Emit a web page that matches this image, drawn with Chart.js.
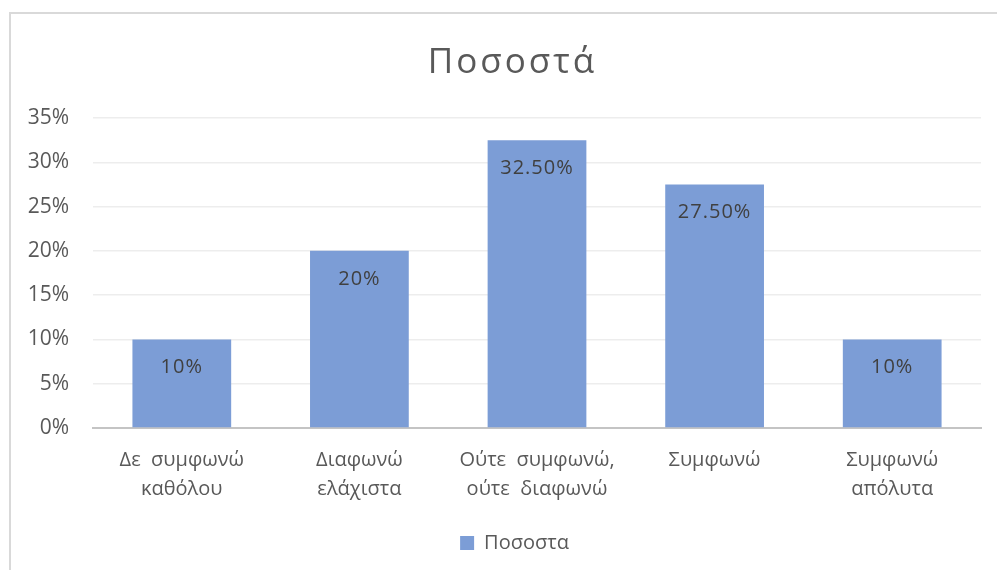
<!DOCTYPE html>
<html>
<head>
<meta charset="utf-8">
<script src="https://cdn.jsdelivr.net/npm/chart.js@4"></script>
<style>
html,body{margin:0;padding:0;background:#fff;}
#wrap{position:relative;width:997px;height:570px;}
#frame{position:absolute;left:9px;top:12px;width:990px;height:560px;border-left:2px solid #d9d9d9;border-top:2px solid #d9d9d9;box-sizing:border-box;pointer-events:none;}
canvas{position:absolute;left:0;top:0;}
</style>
</head>
<body>
<div id="wrap">
<canvas id="c" width="997" height="570"></canvas>
<div id="frame"></div>
</div>
<script>
const titleText = 'Ποσοστά';
const seriesName = 'Ποσοστα';
const categories = [
  ['Δε  συμφωνώ', 'καθόλου'],
  ['Διαφωνώ', 'ελάχιστα'],
  ['Ούτε  συμφωνώ,', 'ούτε  διαφωνώ'],
  ['Συμφωνώ'],
  ['Συμφωνώ', 'απόλυτα']
];
const values = [10, 20, 32.5, 27.5, 10];
const yTicks = [0, 5, 10, 15, 20, 25, 30, 35];

const FONT = '"Open Sans", "Noto Sans", sans-serif';
const barColor = '#7C9DD6';

function fmt(v){ return Number.isInteger(v) ? v + '%' : v.toFixed(2) + '%'; }

const titlePlugin = {
  id: 'customTitle',
  afterLayout(chart){
    if (chart.legend) { chart.legend.left += 24; chart.legend.right += 24; }
  },
  afterDraw(chart){
    const ctx = chart.ctx;
    ctx.save();
    ctx.font = '35px ' + FONT;
    ctx.fillStyle = '#595959';
    ctx.letterSpacing = '3px';
    ctx.textBaseline = 'alphabetic';
    ctx.textAlign = 'left';
    const w = ctx.measureText(titleText).width;
    ctx.fillText(titleText, 512.5 - w/2, 73);
    ctx.restore();
  }
};

const labelPlugin = {
  id: 'barLabels',
  afterDatasetsDraw(chart){
    const ctx = chart.ctx;
    const meta = chart.getDatasetMeta(0);
    ctx.save();
    ctx.font = '20px ' + FONT;
    ctx.fillStyle = '#404040';
    ctx.textAlign = 'center';
    ctx.textBaseline = 'middle';
    ctx.letterSpacing = '1px';
    meta.data.forEach((el, i) => {
      ctx.fillText(fmt(values[i]), el.x, el.y + 28);
    });
    ctx.restore();
  }
};

new Chart(document.getElementById('c'), {
  type: 'bar',
  data: {
    labels: categories,
    datasets: [{
      label: seriesName,
      data: values,
      backgroundColor: barColor,
      borderWidth: 0,
      categoryPercentage: 1,
      barPercentage: 0.556
    }]
  },
  options: {
    responsive: false,
    animation: false,
    devicePixelRatio: 1,
    layout: { padding: { left: 0, right: 16, top: 118, bottom: 7 } },
    plugins: {
      title: { display: false },
      tooltip: { enabled: false },
      legend: {
        position: 'bottom',
        labels: {
          boxWidth: 14, boxHeight: 14, padding: 10,
          color: '#595959',
          font: { family: FONT, size: 20 }
        }
      }
    },
    scales: {
      x: {
        grid: { display: false },
        border: { display: true, color: '#c4c4c4', width: 2 },
        ticks: {
          color: '#595959',
          font: { family: FONT, size: 20, lineHeight: 1.45 },
          padding: 10,
          maxRotation: 0, autoSkip: false
        },
        afterFit(s){ s.height = 95; }
      },
      y: {
        min: 0, max: 35,
        afterBuildTicks(s){ s.ticks = yTicks.map(v => ({value: v})); },
        grid: { color: '#ededed', lineWidth: 1.5, drawTicks: false },
        border: { display: false },
        ticks: {
          color: '#595959',
          font: { family: FONT, size: 21 },
          padding: 24,
          callback: v => v + '%'
        },
        afterFit(s){ s.width = 93; }
      }
    }
  },
  plugins: [titlePlugin, labelPlugin]
});
</script>
</body>
</html>
